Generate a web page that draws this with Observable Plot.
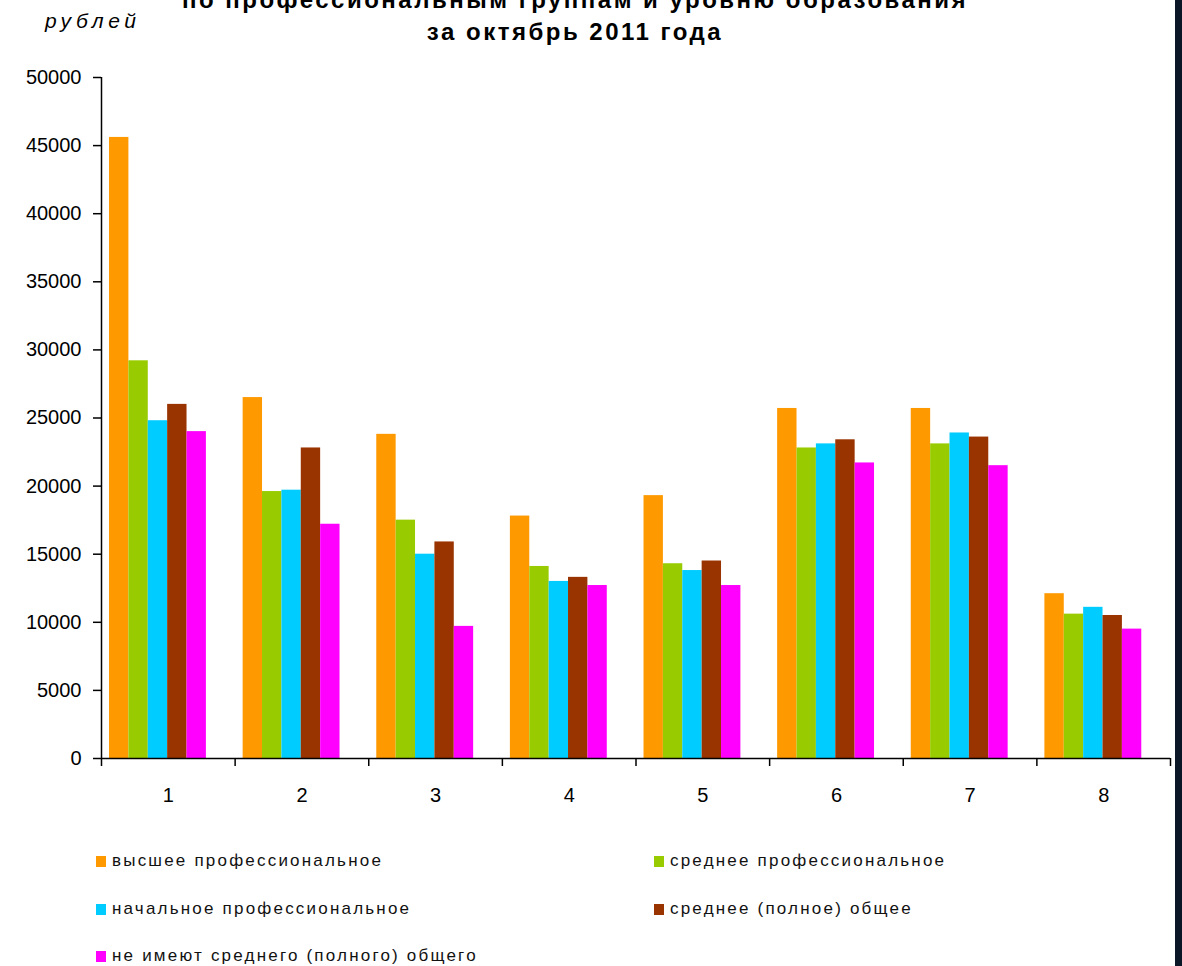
<!DOCTYPE html>
<html>
<head>
<meta charset="utf-8">
<script src="https://cdn.jsdelivr.net/npm/d3@7"></script>
<script src="https://cdn.jsdelivr.net/npm/@observablehq/plot@0.6"></script>
<style>
  html, body { margin: 0; padding: 0; background: #fff; }
  body { width: 1182px; height: 966px; position: relative; overflow: hidden; font-family: "Liberation Sans", Arial, sans-serif; }
  #chart { position: absolute; left: 0; top: 0; }
  .title { position: absolute; left: -16px; width: 1182px; text-align: center; font-weight: bold; font-size: 24px; letter-spacing: 2.5px; color: #000; white-space: nowrap; }
  #unit { position: absolute; left: 45px; top: 9px; font-style: italic; font-size: 21px; letter-spacing: 4.5px; }
  .leg { position: absolute; font-size: 17px; letter-spacing: 2.2px; color: #111; white-space: nowrap; }
  .leg span.sw { display: inline-block; width: 10px; height: 11px; margin-right: 6px; vertical-align: -1px; }
  #edge { position: absolute; left: 1175px; top: 0; width: 7px; height: 966px; background: #0b1626; }
</style>
</head>
<body>
<div id="chart"></div>
<div class="title" style="top:-14px">по профессиональным группам и уровню образования</div>
<div class="title" style="top:18px">за октябрь 2011 года</div>
<div id="unit">рублей</div>
<div id="legend"></div>
<div id="edge"></div>
<script>
const groups = ["1", "2", "3", "4", "5", "6", "7", "8"];
const series = [
  "высшее профессиональное",
  "среднее профессиональное",
  "начальное профессиональное",
  "среднее (полное) общее",
  "не имеют среднего (полного) общего"
];
const colors = ["#FF9900", "#99CC00", "#00CCFF", "#993300", "#FF00FF"];
const higherProf   = [45600, 26500, 23800, 17800, 19300, 25700, 25700, 12100];
const secondaryProf = [29200, 19600, 17500, 14100, 14300, 22800, 23100, 10600];
const primaryProf  = [24800, 19700, 15000, 13000, 13800, 23100, 23900, 11100];
const secondaryGen = [26000, 22800, 15900, 13300, 14500, 23400, 23600, 10500];
const noSecondary  = [24000, 17200,  9700, 12700, 12700, 21700, 21500,  9500];
const yTicks = [0, 5000, 10000, 15000, 20000, 25000, 30000, 35000, 40000, 45000, 50000];

const valuesBySeries = [higherProf, secondaryProf, primaryProf, secondaryGen, noSecondary];

// Within-group band layout (in group units)
const inner = d3.scaleBand().domain(series).range([0.06, 0.06 + 5 * 0.145]).paddingInner(0);

const rows = [];
groups.forEach((g, i) => {
  series.forEach((s, j) => {
    const gx = i + 0.5;
    rows.push({
      group: g, series: s, value: valuesBySeries[j][i],
      x1: gx + inner(s), x2: gx + inner(s) + inner.bandwidth()
    });
  });
});

const xMin = 0.5, xMax = groups.length + 0.5;
const boundaries = d3.range(0, groups.length + 1).map(i => i + 0.5);
const centers = groups.map((g, i) => i + 1);

const chart = Plot.plot({
  width: 1182,
  height: 830,
  marginLeft: 101,
  marginRight: 12,
  marginTop: 77,
  marginBottom: 72,
  style: { fontFamily: "'Liberation Sans', Arial, sans-serif", fontSize: "20px", color: "#000", background: "transparent" },
  x: { type: "linear", domain: [xMin, xMax] },
  y: { domain: [0, 50000] },
  color: { domain: series, range: colors },
  marks: [
    Plot.rectY(rows, { x1: "x1", x2: "x2", y: "value", fill: "series" }),
    Plot.ruleY([0], { stroke: "#000", strokeWidth: 1.5 }),
    Plot.ruleX([xMin], { stroke: "#000", strokeWidth: 1.5 }),
    Plot.axisY({ ticks: yTicks, tickFormat: d => String(d), tickSize: 8, tickPadding: 12, label: null, fontSize: 20, strokeWidth: 1.5, letterSpacing: 1 }),
    Plot.axisX({ ticks: boundaries, tickFormat: () => "", tickSize: 8, label: null, strokeWidth: 1.5 }),
    Plot.axisX({ ticks: centers, tickFormat: d => groups[d - 1], tickSize: 0, tickPadding: 29, label: null, fontSize: 20 })
  ]
});
document.getElementById("chart").appendChild(chart);

// Legend
const legPos = [
  [96, 851], [654, 851],
  [96, 899], [654, 899],
  [96, 946]
];
const legend = document.getElementById("legend");
series.forEach((s, j) => {
  const d = document.createElement("div");
  d.className = "leg";
  d.style.left = legPos[j][0] + "px";
  d.style.top = legPos[j][1] + "px";
  d.innerHTML = `<span class="sw" style="background:${colors[j]}"></span>${s}`;
  legend.appendChild(d);
});
</script>
</body>
</html>
